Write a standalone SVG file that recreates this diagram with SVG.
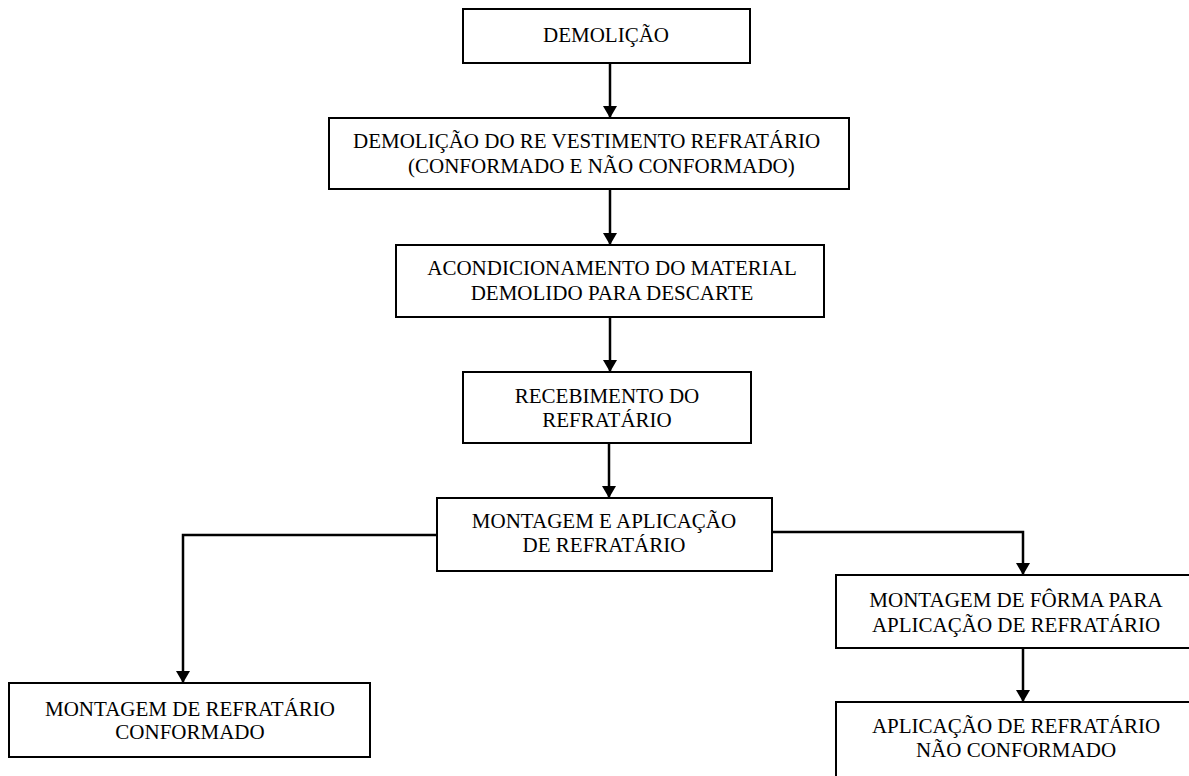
<svg xmlns="http://www.w3.org/2000/svg" width="1189" height="776" viewBox="0 0 1189 776">
  <style>
    .box { fill: #ffffff; stroke: #000000; stroke-width: 2; }
    .lbl { font-family: "Liberation Serif", "Times New Roman", serif; font-size: 21px; fill: #000000; }
    .mid { text-anchor: middle; }
    .wire { fill: none; stroke: #000000; stroke-width: 2.5; }
  </style>
  <defs>
    <marker id="head" viewBox="0 0 12 14" refX="12" refY="7" markerWidth="12" markerHeight="14" markerUnits="userSpaceOnUse" orient="auto">
      <path d="M0,0 L12,7 L0,14 Z" fill="#000000"/>
    </marker>
  </defs>
  <rect width="1189" height="776" fill="#ffffff"/>

  <g id="connectors">
    <line class="wire" x1="610" y1="63" x2="610" y2="118" marker-end="url(#head)"/>
    <line class="wire" x1="610" y1="189" x2="610" y2="245" marker-end="url(#head)"/>
    <line class="wire" x1="610" y1="317" x2="610" y2="372" marker-end="url(#head)"/>
    <line class="wire" x1="609" y1="443" x2="609" y2="498" marker-end="url(#head)"/>
    <polyline class="wire" points="437,535 183,535 183,683" marker-end="url(#head)"/>
    <polyline class="wire" points="772,532 1023,532 1023,575" marker-end="url(#head)"/>
    <line class="wire" x1="1023" y1="648" x2="1023" y2="702" marker-end="url(#head)"/>
  </g>

  <g id="demolicao">
    <rect class="box" x="463" y="9" width="287" height="54"/>
    <text class="lbl mid" x="606" y="42">DEMOLIÇÃO</text>
  </g>

  <g id="demolicao-revestimento">
    <rect class="box" x="329" y="118" width="520" height="71"/>
    <text class="lbl" x="353" y="148">DEMOLIÇÃO DO RE VESTIMENTO REFRATÁRIO</text>
    <text class="lbl" x="408" y="173">(CONFORMADO E NÃO CONFORMADO)</text>
  </g>

  <g id="acondicionamento">
    <rect class="box" x="396" y="245" width="428" height="72"/>
    <text class="lbl mid" x="612" y="275">ACONDICIONAMENTO DO MATERIAL</text>
    <text class="lbl mid" x="612" y="300">DEMOLIDO PARA DESCARTE</text>
  </g>

  <g id="recebimento">
    <rect class="box" x="463" y="372" width="288" height="71"/>
    <text class="lbl mid" x="607" y="403">RECEBIMENTO DO</text>
    <text class="lbl mid" x="607" y="427">REFRATÁRIO</text>
  </g>

  <g id="montagem-aplicacao">
    <rect class="box" x="437" y="498" width="335" height="73"/>
    <text class="lbl mid" x="604" y="528">MONTAGEM E APLICAÇÃO</text>
    <text class="lbl mid" x="604" y="552">DE REFRATÁRIO</text>
  </g>

  <g id="montagem-conformado">
    <rect class="box" x="9" y="683" width="361" height="74"/>
    <text class="lbl mid" x="190" y="716">MONTAGEM DE REFRATÁRIO</text>
    <text class="lbl mid" x="190" y="739">CONFORMADO</text>
  </g>

  <g id="montagem-forma">
    <rect class="box" x="836" y="575" width="370" height="73"/>
    <text class="lbl mid" x="1016" y="607">MONTAGEM DE FÔRMA PARA</text>
    <text class="lbl mid" x="1016" y="632">APLICAÇÃO DE REFRATÁRIO</text>
  </g>

  <g id="aplicacao-nao-conformado">
    <rect class="box" x="836" y="702" width="370" height="90"/>
    <text class="lbl mid" x="1016" y="733">APLICAÇÃO DE REFRATÁRIO</text>
    <text class="lbl mid" x="1016" y="757">NÃO CONFORMADO</text>
  </g>
</svg>
